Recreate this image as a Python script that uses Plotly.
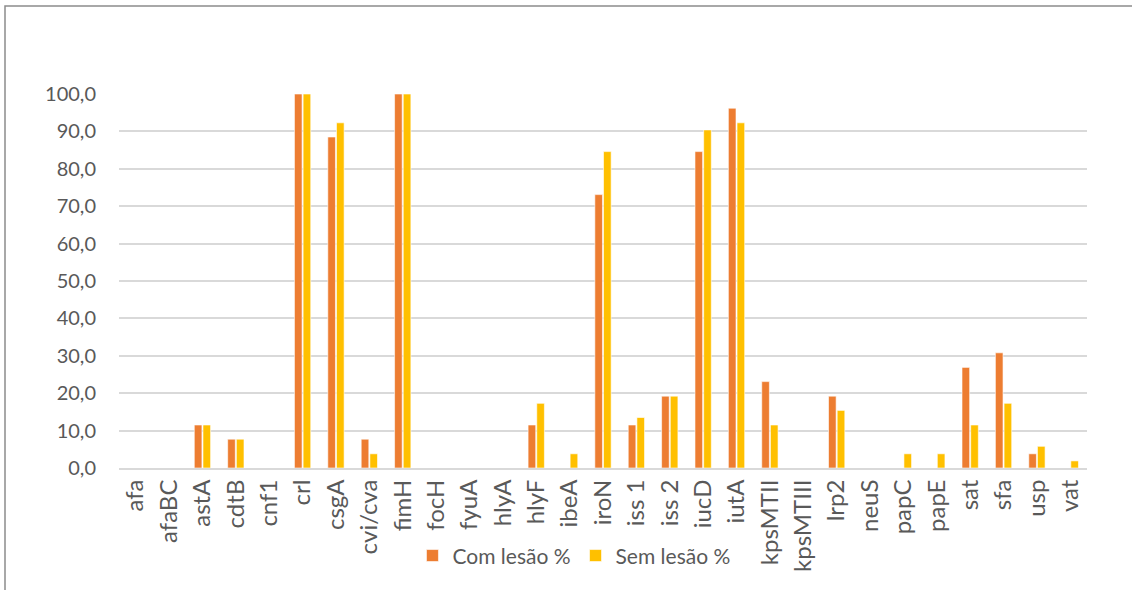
import plotly.graph_objects as go

# Virulence genes and prevalence (%) per group
genes = ["afa", "afaBC", "astA", "cdtB", "cnf1", "crl", "csgA", "cvi/cva", "fimH",
         "focH", "fyuA", "hlyA", "hlyF", "ibeA", "iroN", "iss 1", "iss 2", "iucD",
         "iutA", "kpsMTII", "kpsMTIII", "lrp2", "neuS", "papC", "papE", "sat",
         "sfa", "usp", "vat"]
com_lesao = [0, 0, 11.5, 7.7, 0, 100, 88.5, 7.7, 100,
             0, 0, 0, 11.5, 0, 73.1, 11.5, 19.2, 84.6,
             96.2, 23.1, 0, 19.2, 0, 0, 0, 26.9,
             30.8, 3.8, 0]
sem_lesao = [0, 0, 11.5, 7.7, 0, 100, 92.3, 3.8, 100,
             0, 0, 0, 17.3, 3.8, 84.6, 13.5, 19.2, 90.4,
             92.3, 11.5, 0, 15.4, 0, 3.8, 3.8, 11.5,
             17.3, 5.8, 1.9]
y_ticks = [0, 10, 20, 30, 40, 50, 60, 70, 80, 90, 100]

W, H = 1132, 590
L, R, T, B = 119, 45, 94, 122
pw, ph = W - L - R, H - T - B

fig = go.Figure()
fig.add_trace(go.Bar(x=genes, y=com_lesao, name="Com lesão %",
                     marker=dict(color="#ED7D31", line=dict(color="white", width=0.6))))
fig.add_trace(go.Bar(x=genes, y=sem_lesao, name="Sem lesão %",
                     marker=dict(color="#FFC000", line=dict(color="white", width=0.6))))

# outer chart frame
fig.add_shape(type="rect", xref="paper", yref="paper",
              x0=(5 - L) / pw, x1=(W + 20 - L) / pw,
              y0=-(H + 20 - T - ph) / ph, y1=1 + (T - 6) / ph,
              line=dict(color="#8c8c8c", width=1.5), layer="below")

fig.update_layout(
    width=W, height=H,
    margin=dict(l=L, r=R, t=T, b=B),
    plot_bgcolor="white", paper_bgcolor="white",
    barmode="group", bargap=0.48, bargroupgap=0.12,
    separators=", ",
    font=dict(family="Lato, Liberation Sans, sans-serif", color="#595959"),
    showlegend=True,
    legend=dict(orientation="h", x=0.47, xanchor="center", y=-0.235, yanchor="middle",
                font=dict(size=21, family="Lato, sans-serif", color="#595959"),
                bgcolor="rgba(0,0,0,0)", itemwidth=30, traceorder="normal"),
    xaxis=dict(tickangle=-90, tickfont=dict(size=24), showline=True, linecolor="#d9d9d9",
               linewidth=2, ticks="", showgrid=False, automargin=False),
    yaxis=dict(range=[0, 100], tickvals=y_ticks, tickformat=".1f",
               tickfont=dict(size=20), showgrid=True, gridcolor="#d9d9d9", gridwidth=1.5,
               zeroline=False, showline=False, ticks="", ticklabelstandoff=22,
               automargin=False),
)

fig.write_html("out.html")
